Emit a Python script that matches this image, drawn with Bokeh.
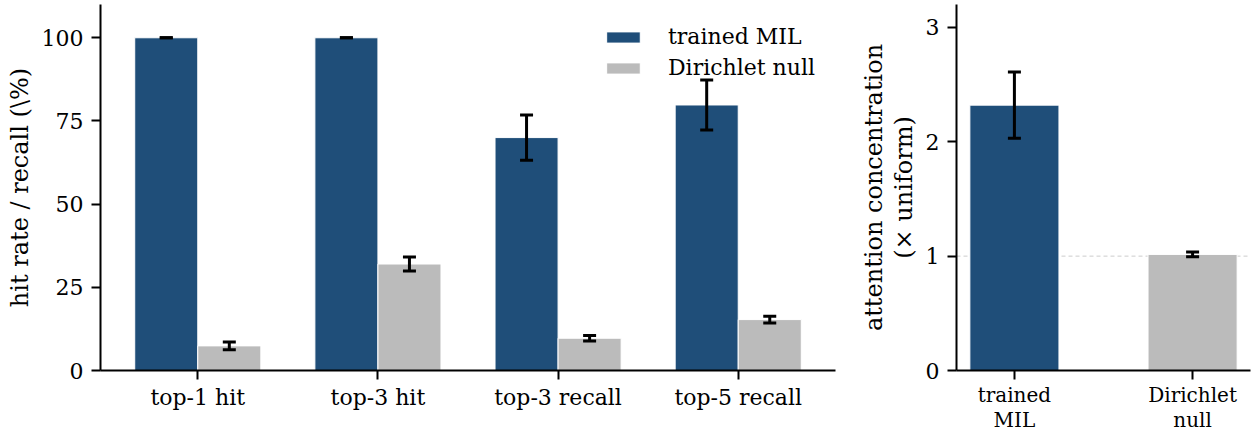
import numpy as np
from bokeh.plotting import figure
from bokeh.models import (Range1d, FixedTicker, ColumnDataSource, Whisker,
                          TeeHead, Span, Legend, LegendItem)
from bokeh.layouts import row
from bokeh.embed import file_html
from bokeh.resources import INLINE

# Retrieval metrics: trained MIL vs Dirichlet null (mean and error)
metrics = ["top-1 hit", "top-3 hit", "top-3 recall", "top-5 recall"]
mil_mean = [100.0, 100.0, 70.0, 79.8]
mil_err = [0.0, 0.0, 6.8, 7.5]
null_mean = [7.4, 32.0, 9.7, 15.3]
null_err = [1.2, 2.1, 0.8, 1.0]

# Attention concentration relative to a uniform distribution
conc_groups = ["trained\nMIL", "Dirichlet\nnull"]
conc_mean = [2.32, 1.015]
conc_err = [0.29, 0.02]
uniform_level = 1.0

left_yticks = [0, 25, 50, 75, 100]
right_yticks = [0, 1, 2, 3]

BLUE = "#1f4e79"
GREY = "#bbbbbb"
FONT = "DejaVu Serif"
BAR_W = 0.35


def style_axes(p, tick_size, label_size):
    p.xgrid.visible = False
    p.ygrid.visible = False
    p.outline_line_color = None
    p.background_fill_color = "white"
    p.border_fill_color = "white"
    for ax in (p.xaxis[0], p.yaxis[0]):
        ax.axis_line_width = 2
        ax.axis_line_color = "black"
        ax.major_tick_line_width = 2
        ax.major_tick_line_color = "black"
        ax.major_tick_out = 9
        ax.major_tick_in = 0
        ax.minor_tick_line_color = None
        ax.major_label_text_font = FONT
        ax.major_label_text_font_size = tick_size
        ax.major_label_text_color = "black"
        ax.axis_label_text_font = FONT
        ax.axis_label_text_font_size = label_size
        ax.axis_label_text_font_style = "normal"
        ax.axis_label_text_color = "black"
    p.yaxis[0].major_label_standoff = 8
    p.xaxis[0].major_label_standoff = 5


def add_errorbars(p, xs, means, errs):
    src = ColumnDataSource(dict(
        x=list(xs),
        lower=[m - e for m, e in zip(means, errs)],
        upper=[m + e for m, e in zip(means, errs)],
    ))
    w = Whisker(source=src, base="x", lower="lower", upper="upper",
                line_color="black", line_width=3, level="overlay",
                upper_head=TeeHead(size=13, line_width=3, line_color="black"),
                lower_head=TeeHead(size=13, line_width=3, line_color="black"))
    p.add_layout(w)


# ---------------- left panel: hit rate / recall ----------------
idx = np.arange(len(metrics))
x_mil = idx - BAR_W / 2
x_null = idx + BAR_W / 2

p1 = figure(width=850, height=434, output_backend="svg", toolbar_location=None,
            x_range=Range1d(-0.54, 3.54), y_range=Range1d(0, 110),
            min_border_left=100, min_border_right=15,
            min_border_top=4, min_border_bottom=64)

r_mil = p1.vbar(x=x_mil, top=mil_mean, width=BAR_W, bottom=0,
                fill_color=BLUE, line_color="white", line_width=1)
r_null = p1.vbar(x=x_null, top=null_mean, width=BAR_W, bottom=0,
                 fill_color=GREY, line_color="white", line_width=1)
add_errorbars(p1, x_mil, mil_mean, mil_err)
add_errorbars(p1, x_null, null_mean, null_err)

style_axes(p1, "22px", "24px")
p1.xaxis.ticker = FixedTicker(ticks=list(idx))
p1.xaxis.major_label_overrides = {int(i): m for i, m in zip(idx, metrics)}
p1.yaxis.ticker = FixedTicker(ticks=left_yticks)
p1.yaxis.axis_label = "hit rate / recall (\\%)"

legend = Legend(items=[LegendItem(label="trained MIL", renderers=[r_mil]),
                       LegendItem(label="Dirichlet null", renderers=[r_null])],
                location="top_right", border_line_alpha=0,
                background_fill_alpha=0, glyph_width=42, glyph_height=14,
                label_text_font=FONT, label_text_font_size="22px",
                label_text_color="black",
                label_standoff=24, spacing=6, padding=0, margin=20)
p1.add_layout(legend)

# ---------------- right panel: attention concentration ----------------
gidx = np.arange(len(conc_groups))
p2 = figure(width=403, height=434, output_backend="svg", toolbar_location=None,
            x_range=Range1d(-0.325, 1.325), y_range=Range1d(0, 3.2),
            min_border_left=106, min_border_right=3,
            min_border_top=4, min_border_bottom=64)

p2.add_layout(Span(location=uniform_level, dimension="width",
                   line_color="#cccccc", line_dash="4 3", line_width=1,
                   level="underlay"))
p2.vbar(x=gidx, top=conc_mean, width=0.5, bottom=0,
        fill_color=[BLUE, GREY], line_color="white", line_width=1)
add_errorbars(p2, gidx, conc_mean, conc_err)

style_axes(p2, "20px", "24px")
p2.xaxis.ticker = FixedTicker(ticks=list(gidx))
p2.xaxis.major_label_overrides = {int(i): g for i, g in zip(gidx, conc_groups)}
p2.xaxis.major_label_standoff = 3
p2.xaxis.major_label_text_line_height = 1.05
p2.yaxis.ticker = FixedTicker(ticks=right_yticks)
p2.yaxis.major_label_text_font_size = "22px"
p2.yaxis.axis_label = "attention concentration\n(\u00d7 uniform)"
p2.yaxis.axis_label_text_line_height = 1.05

layout = row(p1, p2)
open("out.html", "w").write(file_html(layout, INLINE))
